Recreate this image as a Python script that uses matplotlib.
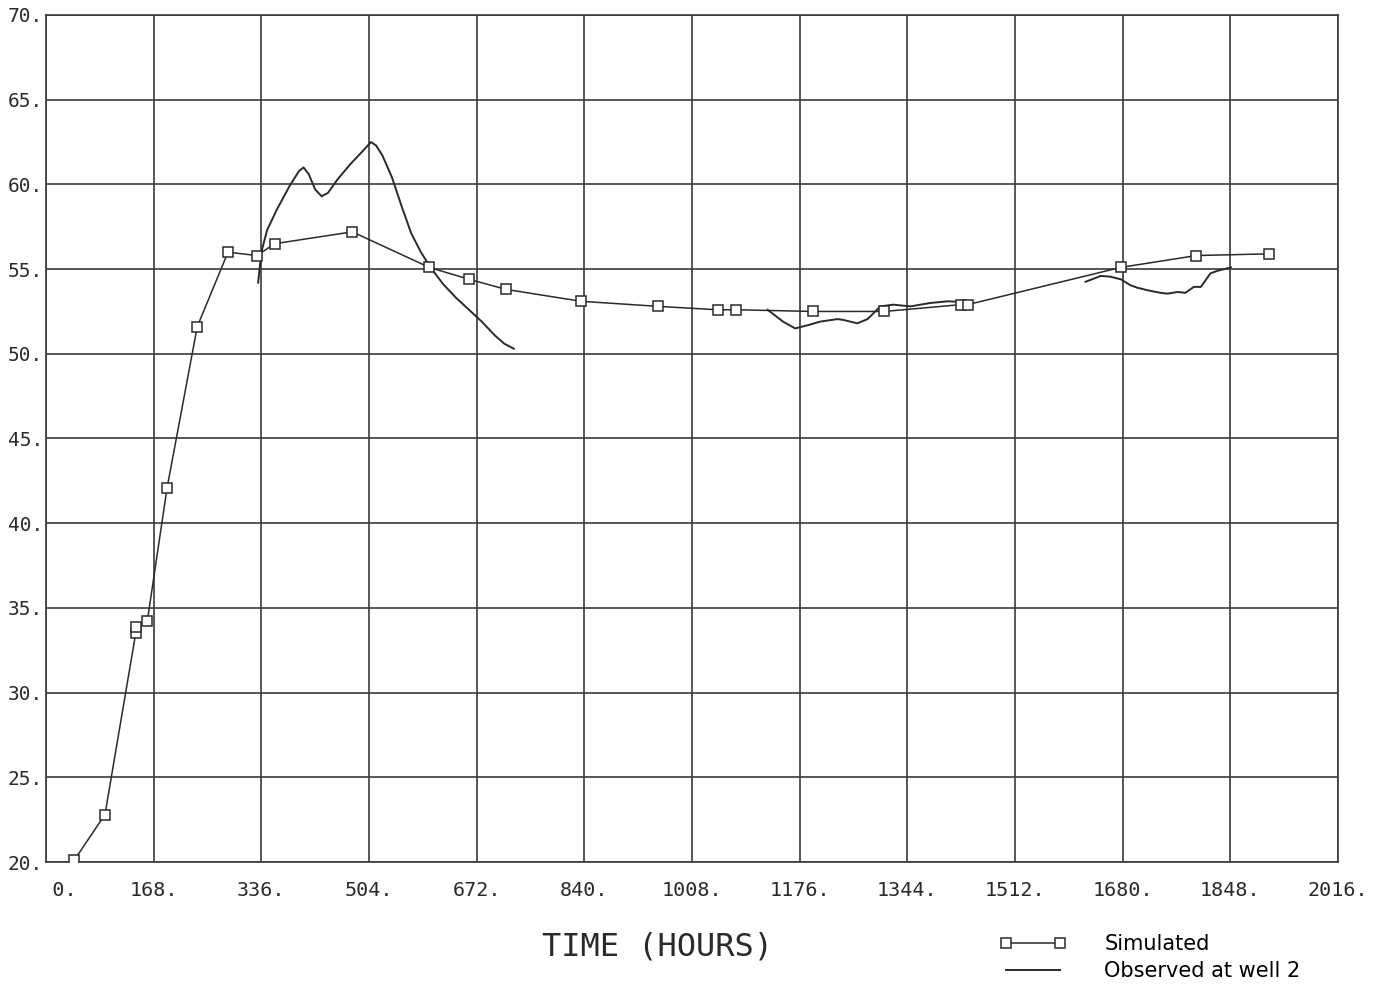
import numpy as np
import matplotlib
matplotlib.use("Agg")
import matplotlib.pyplot as plt

# --- data ---
sim_t = [44, 92, 140, 141, 158, 189, 236, 284, 329, 357, 478, 598, 660, 718,
         835, 955, 1048, 1077, 1197, 1308, 1427, 1438, 1677, 1795, 1908]
sim_v = [20.1, 22.8, 33.5, 33.9, 34.2, 42.1, 51.6, 56.0, 55.8, 56.5, 57.2, 55.1,
         54.4, 53.8, 53.1, 52.8, 52.6, 52.6, 52.5, 52.5, 52.9, 52.9, 55.1, 55.8, 55.9]

# observed record, three pieces
obs1_t = [331, 336, 345, 360, 380, 395, 402, 410, 420, 430, 440, 455, 475, 495,
          507, 515, 525, 540, 555, 570, 585, 600, 620, 640, 660, 680, 700, 715, 730]
obs1_v = [54.2, 56.0, 57.3, 58.5, 59.9, 60.8, 61.0, 60.6, 59.7, 59.3, 59.5, 60.3,
          61.2, 62.0, 62.5, 62.3, 61.7, 60.4, 58.7, 57.1, 56.0, 55.1, 54.1, 53.3,
          52.6, 51.9, 51.1, 50.6, 50.3]

obs2_t = [1126, 1150, 1169, 1190, 1208, 1235, 1244, 1266, 1282, 1302, 1322, 1349,
          1380, 1407, 1432]
obs2_v = [52.6, 51.9, 51.5, 51.7, 51.9, 52.05, 52.0, 51.8, 52.05, 52.8, 52.9, 52.8,
          53.0, 53.1, 53.05]

obs3_t = [1622, 1646, 1661, 1677, 1692, 1703, 1719, 1739, 1750, 1766, 1778, 1791,
          1802, 1817, 1828, 1849]
obs3_v = [54.25, 54.6, 54.55, 54.4, 54.05, 53.9, 53.75, 53.6, 53.55, 53.65, 53.6,
          53.95, 53.95, 54.75, 54.9, 55.1]

x_ticks = [0, 168, 336, 504, 672, 840, 1008, 1176, 1344, 1512, 1680, 1848, 2016]
x_labels = ["   0.", "168.", "336.", "504.", "672.", "840.", "1008.", "1176.",
            "1344.", "1512.", "1680.", "1848.", "2016."]
y_ticks = [20, 25, 30, 35, 40, 45, 50, 55, 60, 65, 70]
y_labels = ["20.", "25.", "30.", "35.", "40.", "45.", "50.", "55.", "60.", "65.", "70."]

ink = "#2a2a2a"

fig = plt.figure(figsize=(13.78, 9.94), dpi=100)
ax = fig.add_axes([46 / 1378, 1 - 862 / 994, 1292 / 1378, 847 / 994])

sim_line, = ax.plot(sim_t, sim_v, color=ink, lw=1.1, marker="s", markersize=7,
                    mfc="white", mec=ink, mew=1.1, label="Simulated", zorder=3)
obs_line, = ax.plot(obs1_t, obs1_v, color=ink, lw=1.4, label="Observed at well 2",
                    zorder=2)
ax.plot(obs2_t, obs2_v, color=ink, lw=1.4, zorder=2)
ax.plot(obs3_t, obs3_v, color=ink, lw=1.4, zorder=2)

ax.set_xlim(0, 2016)
ax.set_ylim(20, 70)
ax.set_xticks(x_ticks)
ax.set_xticklabels(x_labels, family="DejaVu Sans Mono", fontsize=14.5, color=ink)
ax.set_yticks(y_ticks)
ax.set_yticklabels(y_labels, family="DejaVu Sans Mono", fontsize=14, color=ink)
ax.tick_params(axis="x", length=0, pad=14)
ax.tick_params(axis="y", length=0, pad=2)
ax.grid(True, color="#3a3a3a", lw=1.2)
ax.set_axisbelow(True)
for s in ax.spines.values():
    s.set_color("#3a3a3a")
    s.set_linewidth(1.2)

ax.set_xlabel("TIME (HOURS)", family="DejaVu Sans Mono", fontsize=23, color=ink)
ax.xaxis.set_label_coords((658 - 46) / 1292, -(947 - 862) / 847)
ax.xaxis.label.set_va("center")

fig.legend(handles=[sim_line, obs_line], loc="upper left",
           bbox_to_anchor=(1000 / 1378, 1 - 934 / 994), frameon=False,
           borderpad=0, borderaxespad=0, numpoints=2, handlelength=3.2,
           handletextpad=1.8, labelspacing=0.35,
           prop={"family": "DejaVu Sans", "size": 15})

fig.savefig("out.png", dpi=100)
